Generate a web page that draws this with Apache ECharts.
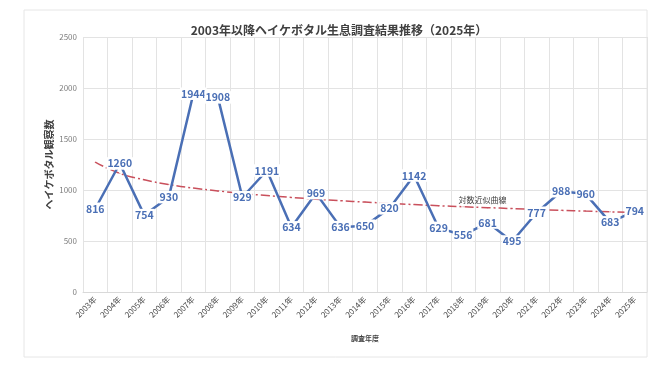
<!DOCTYPE html>
<html>
<head>
<meta charset="utf-8">
<style>
    html, body { margin: 0; padding: 0; background: #fff; }
    #chart { width: 670px; height: 378px; }
</style>
<script src="https://cdn.jsdelivr.net/npm/echarts@6/dist/echarts.min.js"></script>
</head>
<body>
<div id="chart"></div>
<script>
    // 調査年度
    var years = ['2003年', '2004年', '2005年', '2006年', '2007年', '2008年', '2009年', '2010年',
        '2011年', '2012年', '2013年', '2014年', '2015年', '2016年', '2017年', '2018年',
        '2019年', '2020年', '2021年', '2022年', '2023年', '2024年', '2025年'];
    // ヘイケボタル観察数
    var counts = [816, 1260, 754, 930, 1944, 1908, 929, 1191, 634, 969, 636, 650, 820, 1142,
        629, 556, 681, 495, 777, 988, 960, 683, 794];
    // 対数近似曲線
    var trend = [1273, 1163, 1100, 1054, 1019, 991, 966, 945, 927, 910, 895, 882, 869, 857,
        846, 836, 827, 818, 809, 801, 793, 786, 779];
    var yTicks = [0, 500, 1000, 1500, 2000, 2500];

    var trendLabelIndex = 16;
    var font = '"Noto Sans CJK JP", "Noto Sans", sans-serif';

    var myChart = echarts.init(document.getElementById('chart'));
    var option = {
        backgroundColor: '#fff',
        animation: false,
        textStyle: { fontFamily: font },
        title: {
            text: '2003年以降ヘイケボタル生息調査結果推移（2025年）',
            left: 334,
            top: 19,
            textAlign: 'center',
            textStyle: { fontSize: 12, fontWeight: 'bold', color: '#404040', fontFamily: font }
        },
        graphic: [{
            type: 'rect',
            shape: { x: 24, y: 10, width: 623, height: 347 },
            style: { fill: 'none', stroke: '#e6e6e6', lineWidth: 1 },
            z: -1
        }],
        grid: { left: 83, right: 23, top: 37, bottom: 86 },
        xAxis: {
            type: 'category',
            data: years,
            boundaryGap: true,
            name: '調査年度',
            nameLocation: 'middle',
            nameGap: 43,
            nameMoveOverlap: false,
            nameTextStyle: { fontSize: 7, fontWeight: 'bold', color: '#404040' },
            axisLine: { lineStyle: { color: '#d9d9d9' } },
            axisTick: { show: false },
            axisLabel: { rotate: 45, fontSize: 8, color: '#4a4a4a', margin: 6, interval: 0 },
            splitLine: { show: true, interval: 0, lineStyle: { color: '#e3e3e3', width: 1 } }
        },
        yAxis: {
            type: 'value',
            min: yTicks[0],
            max: yTicks[yTicks.length - 1],
            interval: 500,
            name: 'ヘイケボタル観察数',
            nameLocation: 'middle',
            nameGap: 29,
            nameMoveOverlap: false,
            nameRotate: 90,
            nameTextStyle: { fontSize: 10, fontWeight: 'bold', color: '#404040' },
            axisLine: { show: false },
            axisTick: { show: false },
            axisLabel: { fontSize: 8, color: '#7f7f7f', margin: 6, formatter: function (v) { return String(v); } },
            splitLine: { lineStyle: { color: '#e3e3e3', width: 1 } }
        },
        series: [{
            name: '対数近似曲線',
            type: 'line',
            data: trend,
            z: 2,
            smooth: true,
            symbol: 'circle',
            symbolSize: 1,
            itemStyle: { color: '#c9505c' },
            lineStyle: { color: '#c9505c', width: 1.5, type: [9, 3, 2, 3] },
            label: {
                show: true,
                position: 'top',
                distance: 3,
                offset: [-5, 0],
                fontSize: 8,
                color: '#404040',
                formatter: function (p) {
                    return p.dataIndex === trendLabelIndex ? '対数近似曲線' : '';
                }
            }
        }, {
            name: 'ヘイケボタル観察数',
            type: 'line',
            data: counts,
            z: 3,
            symbol: 'circle',
            symbolSize: 1,
            itemStyle: { color: '#4a6fb5' },
            lineStyle: { color: '#4a6fb5', width: 2.5 },
            label: {
                show: true,
                position: 'inside',
                fontSize: 10.5,
                fontWeight: 'bold',
                color: '#4a6fb5',
                backgroundColor: '#fff',
                padding: [1, 1]
            }
        }]
    };
    myChart.setOption(option);
</script>
</body>
</html>
